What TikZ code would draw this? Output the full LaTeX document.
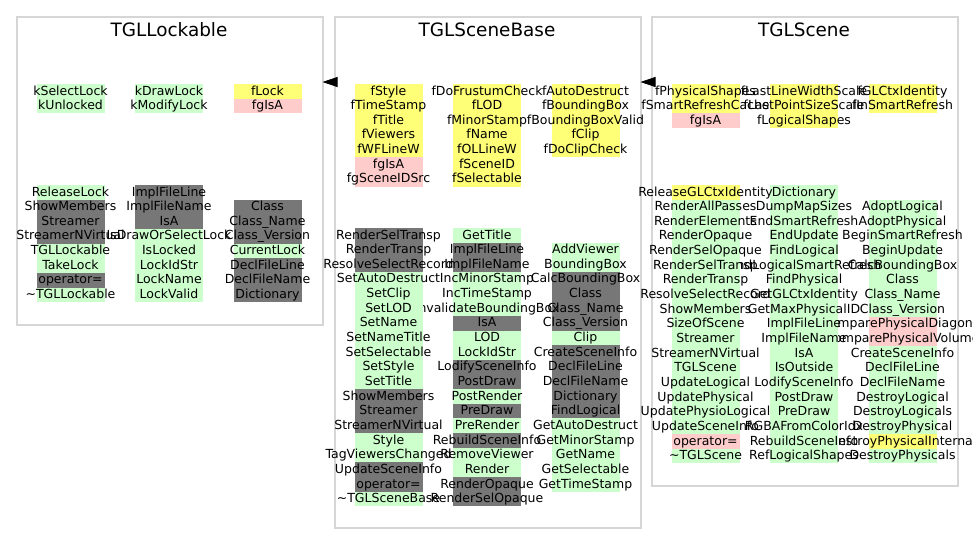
\documentclass[tikz,border=0pt]{standalone}
\usepackage{fontspec}
\setmainfont{DejaVu Sans}
\usetikzlibrary{arrows.meta}
\definecolor{cg}{HTML}{CCFFCC}
\definecolor{cd}{HTML}{777777}
\definecolor{cp}{HTML}{FFCCCC}
\definecolor{cy}{HTML}{FFFF77}
\definecolor{bord}{HTML}{D6D6D6}
\newcommand\mcol[4]{%
  \foreach \bgc/\txt [count=\i from 0] in {#4}{%
    \fill[\bgc] (#2-34,{#3+\i*14.65}) rectangle (#2+34,{#3+\i*14.65+14.65});
    \node[lbl] (#1-\i) at (#2,{#3+\i*14.65+11}) {\txt};
  }}
\tikzset{
  lbl/.style={font=\fontsize{12.5}{14.65}\selectfont, inner sep=0pt, anchor=base, text=black},
  ttl/.style={font=\fontsize{18.4}{22}\selectfont, inner sep=0pt, anchor=base, text=black},
  cluster/.style={draw=bord, line width=1.5pt, fill=white, inner sep=0pt, anchor=north west},
  inh/.style={draw=black, line width=0.8pt, -{Triangle[length=15pt,width=10pt]}, shorten >=-1pt}
}
\begin{document}
\begin{tikzpicture}[x=1pt,y=-1pt]
\useasboundingbox (0,0) rectangle (973,555);
\fill[white] (0,0) rectangle (973,555);
% clusters
\node[cluster, minimum width=306pt, minimum height=308pt] (lk) at (16,16) {};
\node[cluster, minimum width=306pt, minimum height=511pt] (sb) at (334,16) {};
\node[cluster, minimum width=306pt, minimum height=469pt] (sc) at (651,16) {};
\node[ttl] (lkT) at (169,36.7) {TGLLockable};
\node[ttl] (sbT) at (487,36.7) {TGLSceneBase};
\node[ttl] (scT) at (804,36.7) {TGLScene};
% inheritance arrows
\coordinate (ay) at (0,82);
\draw[inh] (sb.west |- ay) -- (lk.east |- ay);
\draw[inh] (sc.west |- ay) -- (sb.east |- ay);
% ---------------- TGLLockable
\mcol{lkA3}{267.5}{84}{cy/fLock, cp/fgIsA}
\mcol{lkA2}{169}{84}{cg/kDrawLock, cg/kModifyLock}
\mcol{lkA1}{70.5}{84}{cg/kSelectLock, cg/kUnlocked}
\mcol{lkB3}{267.5}{199.65}{cd/Class, cd/Class\_Name, cd/Class\_Version, cg/CurrentLock, cd/DeclFileLine, cd/DeclFileName, cd/Dictionary}
\mcol{lkB2}{169}{185}{cd/ImplFileLine, cd/ImplFileName, cd/IsA, cg/IsDrawOrSelectLock, cg/IsLocked, cg/LockIdStr, cg/LockName, cg/LockValid}
\mcol{lkB1}{70.5}{185}{cg/ReleaseLock, cd/ShowMembers, cd/Streamer, cd/StreamerNVirtual, cg/TGLLockable, cg/TakeLock, cd/operator=, cg/\textasciitilde TGLLockable}
% ---------------- TGLSceneBase
\mcol{sbA3}{585.5}{84}{cy/fAutoDestruct, cy/fBoundingBox, cy/fBoundingBoxValid, cy/fClip, cy/fDoClipCheck}
\mcol{sbA2}{487}{84}{cy/fDoFrustumCheck, cy/fLOD, cy/fMinorStamp, cy/fName, cy/fOLLineW, cy/fSceneID, cy/fSelectable}
\mcol{sbA1}{388.5}{84}{cy/fStyle, cy/fTimeStamp, cy/fTitle, cy/fViewers, cy/fWFLineW, cp/fgIsA, cp/fgSceneIDSrc}
\mcol{sbB3}{585.5}{242.65}{cg/AddViewer, cg/BoundingBox, cd/CalcBoundingBox, cd/Class, cd/Class\_Name, cd/Class\_Version, cg/Clip, cd/CreateSceneInfo, cd/DeclFileLine, cd/DeclFileName, cd/Dictionary, cd/FindLogical, cg/GetAutoDestruct, cg/GetMinorStamp, cg/GetName, cg/GetSelectable, cg/GetTimeStamp}
\mcol{sbB2}{487}{228}{cg/GetTitle, cd/ImplFileLine, cd/ImplFileName, cg/IncMinorStamp, cg/IncTimeStamp, cg/InvalidateBoundingBox, cd/IsA, cg/LOD, cg/LockIdStr, cd/LodifySceneInfo, cd/PostDraw, cg/PostRender, cd/PreDraw, cg/PreRender, cd/RebuildSceneInfo, cg/RemoveViewer, cg/Render, cd/RenderOpaque, cd/RenderSelOpaque}
\mcol{sbB1}{388.5}{228}{cd/RenderSelTransp, cd/RenderTransp, cd/ResolveSelectRecord, cg/SetAutoDestruct, cg/SetClip, cg/SetLOD, cg/SetName, cg/SetNameTitle, cg/SetSelectable, cg/SetStyle, cg/SetTitle, cd/ShowMembers, cd/Streamer, cd/StreamerNVirtual, cg/Style, cg/TagViewersChanged, cd/UpdateSceneInfo, cd/operator=, cg/\textasciitilde TGLSceneBase}
% ---------------- TGLScene
\mcol{scA3}{902.5}{84}{cy/fGLCtxIdentity, cy/fInSmartRefresh}
\mcol{scA2}{804}{84}{cy/fLastLineWidthScale, cy/fLastPointSizeScale, cy/fLogicalShapes}
\mcol{scA1}{705.5}{84}{cy/fPhysicalShapes, cy/fSmartRefreshCache, cp/fgIsA}
\mcol{scB3}{902.5}{199.65}{cg/AdoptLogical, cg/AdoptPhysical, cg/BeginSmartRefresh, cg/BeginUpdate, cg/CalcBoundingBox, cg/Class, cg/Class\_Name, cg/Class\_Version, cp/ComparePhysicalDiagonal, cp/ComparePhysicalVolume, cg/CreateSceneInfo, cg/DeclFileLine, cg/DeclFileName, cg/DestroyLogical, cg/DestroyLogicals, cg/DestroyPhysical, cy/DestroyPhysicalInternal, cg/DestroyPhysicals}
\mcol{scB2}{804}{185}{cg/Dictionary, cg/DumpMapSizes, cg/EndSmartRefresh, cg/EndUpdate, cg/FindLogical, cg/FindLogicalSmartRefresh, cg/FindPhysical, cg/GetGLCtxIdentity, cg/GetMaxPhysicalID, cg/ImplFileLine, cg/ImplFileName, cg/IsA, cg/IsOutside, cg/LodifySceneInfo, cg/PostDraw, cg/PreDraw, cg/RGBAFromColorIdx, cg/RebuildSceneInfo, cg/RefLogicalShapes}
\mcol{scB1}{705.5}{185}{cy/ReleaseGLCtxIdentity, cg/RenderAllPasses, cg/RenderElements, cg/RenderOpaque, cg/RenderSelOpaque, cg/RenderSelTransp, cg/RenderTransp, cg/ResolveSelectRecord, cg/ShowMembers, cg/SizeOfScene, cg/Streamer, cg/StreamerNVirtual, cg/TGLScene, cg/UpdateLogical, cg/UpdatePhysical, cg/UpdatePhysioLogical, cg/UpdateSceneInfo, cp/operator=, cg/\textasciitilde TGLScene}
\end{tikzpicture}
\end{document}
